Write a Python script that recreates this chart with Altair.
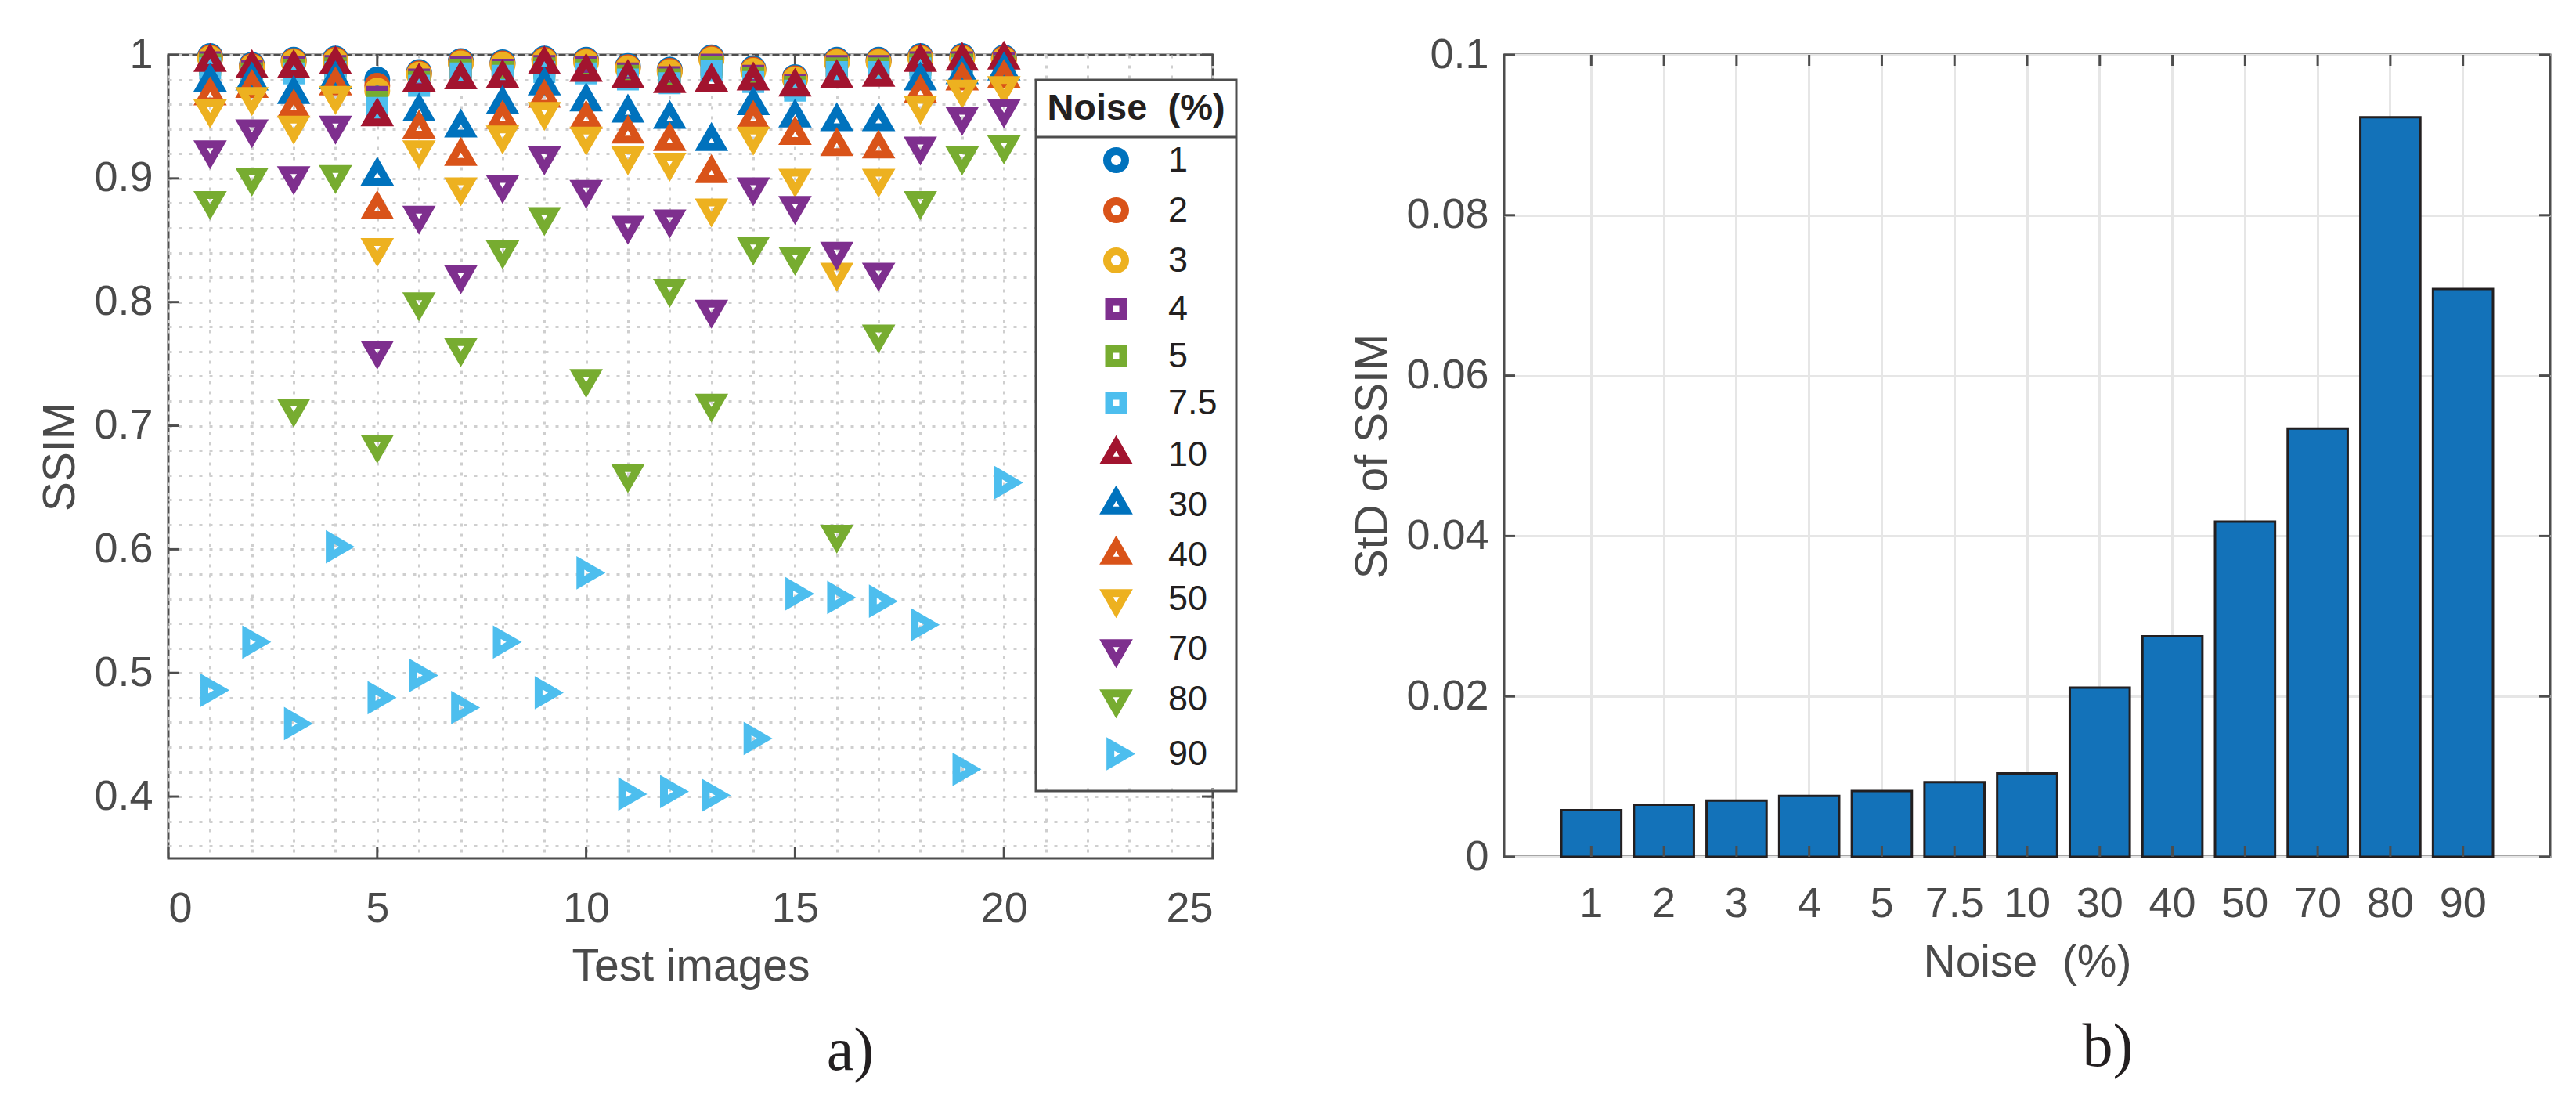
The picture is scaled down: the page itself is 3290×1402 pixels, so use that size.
import altair as alt
import pandas as pd

# ---------------- values ----------------
images = list(range(1, 21))
noise_levels = ["1", "2", "3", "4", "5", "7.5", "10", "30", "40", "50", "70", "80", "90"]

ssim_1 = [0.999, 0.992, 0.996, 0.997, 0.980, 0.986, 0.995, 0.994, 0.997, 0.996,
          0.991, 0.988, 0.998, 0.989, 0.982, 0.996, 0.996, 0.999, 0.999, 0.998]
ssim_2 = [0.998, 0.991, 0.995, 0.996, 0.975, 0.985, 0.994, 0.993, 0.996, 0.995,
          0.990, 0.987, 0.997, 0.988, 0.981, 0.995, 0.995, 0.998, 0.998, 0.997]
ssim_3 = [0.997, 0.990, 0.994, 0.995, 0.971, 0.984, 0.993, 0.992, 0.995, 0.994,
          0.989, 0.986, 0.996, 0.987, 0.980, 0.994, 0.994, 0.997, 0.997, 0.996]
ssim_4 = [0.994, 0.987, 0.990, 0.991, 0.966, 0.980, 0.990, 0.988, 0.991, 0.990,
          0.985, 0.982, 0.992, 0.983, 0.976, 0.991, 0.991, 0.994, 0.994, 0.993]
ssim_5 = [0.992, 0.985, 0.988, 0.989, 0.962, 0.978, 0.988, 0.986, 0.989, 0.988,
          0.983, 0.980, 0.990, 0.981, 0.974, 0.989, 0.989, 0.992, 0.992, 0.991]
ssim_7_5 = [0.989, 0.982, 0.985, 0.986, 0.957, 0.975, 0.985, 0.983, 0.986, 0.985,
            0.980, 0.977, 0.987, 0.978, 0.971, 0.986, 0.986, 0.989, 0.989, 0.988]
ssim_10 = [0.994, 0.989, 0.989, 0.992, 0.950, 0.978, 0.980, 0.981, 0.992, 0.986,
           0.981, 0.977, 0.978, 0.979, 0.974, 0.981, 0.982, 0.994, 0.995, 0.996]
ssim_30 = [0.978, 0.979, 0.968, 0.980, 0.902, 0.954, 0.941, 0.960, 0.975, 0.962,
           0.953, 0.948, 0.930, 0.959, 0.949, 0.946, 0.946, 0.979, 0.984, 0.987]
ssim_40 = [0.967, 0.973, 0.957, 0.975, 0.875, 0.940, 0.918, 0.948, 0.965, 0.948,
           0.936, 0.930, 0.904, 0.948, 0.935, 0.926, 0.924, 0.969, 0.979, 0.981]
ssim_50 = [0.956, 0.966, 0.943, 0.967, 0.844, 0.923, 0.893, 0.935, 0.954, 0.934,
           0.918, 0.913, 0.876, 0.934, 0.900, 0.824, 0.900, 0.959, 0.972, 0.975]
ssim_70 = [0.923, 0.940, 0.902, 0.943, 0.761, 0.870, 0.822, 0.895, 0.918, 0.891,
           0.862, 0.867, 0.794, 0.893, 0.878, 0.841, 0.824, 0.926, 0.950, 0.956]
ssim_80 = [0.882, 0.901, 0.714, 0.903, 0.685, 0.800, 0.763, 0.842, 0.869, 0.738,
           0.661, 0.811, 0.718, 0.845, 0.837, 0.612, 0.774, 0.882, 0.918, 0.927]
ssim_90 = [0.486, 0.525, 0.459, 0.602, 0.480, 0.498, 0.472, 0.525, 0.484, 0.581,
           0.402, 0.404, 0.401, 0.447, 0.564, 0.561, 0.558, 0.539, 0.422, 0.654]

std_ssim = [0.0058, 0.0065, 0.0070, 0.0076, 0.0082, 0.0093, 0.0104,
            0.0211, 0.0275, 0.0418, 0.0534, 0.0922, 0.0708]

x_major = [0, 5, 10, 15, 20, 25]
y_major = [0.4, 0.5, 0.6, 0.7, 0.8, 0.9, 1.0]
std_major = [0, 0.02, 0.04, 0.06, 0.08, 0.1]

legend_title = "Noise\u00a0\u00a0(%)"

# ---------------- style ----------------
FONT = "Liberation Sans"
SERIF = "Liberation Serif"
TEXT = "#4a4a4a"
INK = "#231f20"
AX = "#4d4d4d"

BLUE, ORANGE, YELLOW = "#0072BD", "#D95319", "#EDB120"
PURPLE, GREEN, CYAN, RED = "#7E2F8E", "#77AC30", "#4DBEEE", "#A2142F"
series_colors = [BLUE, ORANGE, YELLOW, PURPLE, GREEN, CYAN, RED,
                 BLUE, ORANGE, YELLOW, PURPLE, GREEN, CYAN]

# MATLAB-like markers, centred on the centroid like MATLAB does
CIRCLE = "M0.784,0A0.784,0.784,0,1,1,-0.784,0A0.784,0.784,0,1,1,0.784,0Z"
SQUARE = "M-0.614,-0.614L0.614,-0.614L0.614,0.614L-0.614,0.614Z"
TRI_UP = "M0,-1L0.866,0.5L-0.866,0.5Z"
TRI_DOWN = "M0,1L0.866,-0.5L-0.866,-0.5Z"
TRI_RIGHT = "M1,0L-0.5,0.866L-0.5,-0.866Z"
series_shapes = [CIRCLE] * 3 + [SQUARE] * 3 + [TRI_UP] * 3 + [TRI_DOWN] * 3 + [TRI_RIGHT]

W1, H1 = 1334, 1026
W2, H2 = 1336, 1024
GAP = 372
TICK = 14
# legend box of panel a, in pixels from the plot's top-left corner
LEG_X, LEG_Y, LEG_W, LEG_H, LEG_SEP = 1108, 32, 255, 904, 105

# ---------------- panel a ----------------
ssim_series = [ssim_1, ssim_2, ssim_3, ssim_4, ssim_5, ssim_7_5, ssim_10,
               ssim_30, ssim_40, ssim_50, ssim_70, ssim_80, ssim_90]
points = pd.DataFrame(
    [(img, v, lvl) for lvl, vals in zip(noise_levels, ssim_series)
     for img, v in zip(images, vals)],
    columns=["image", "ssim", "noise"])

x_grid = list(range(0, 26))
y_grid = [round(0.36 + 0.02 * i, 2) for i in range(33)]

x_a = alt.X("image:Q", title="Test images",
            scale=alt.Scale(domain=[0, 25], nice=False),
            axis=alt.Axis(values=x_grid, labelExpr="datum.value % 5 == 0 ? datum.label : ''",
                          grid=True, gridDash=[4, 9], gridColor="#cfcfcf", gridWidth=3,
                          ticks=False, domain=False, labelPadding=37, titlePadding=19))
y_a = alt.Y("ssim:Q", title="SSIM",
            scale=alt.Scale(domain=[0.35, 1.0], nice=False, zero=False),
            axis=alt.Axis(values=y_grid, format="~g",
                          labelExpr="abs(datum.value * 10 - round(datum.value * 10)) < 0.001 ? datum.label : ''",
                          grid=True, gridDash=[4, 9], gridColor="#cfcfcf", gridWidth=3,
                          ticks=False, domain=False, labelPadding=20, titlePadding=13))

legend_a = alt.Legend(title=legend_title, orient="none", legendX=LEG_X, legendY=LEG_Y,
                      padding=14, titlePadding=19, titleAnchor="middle",
                      titleFont=FONT, titleFontSize=47, titleFontWeight="bold", titleColor=INK,
                      titleLimit=600,
                      rowPadding=1, symbolSize=860, symbolStrokeWidth=10,
                      symbolOffset=55, labelOffset=44, labelFont=FONT, labelFontSize=45,
                      labelColor=INK, strokeColor=AX)

scatter = alt.Chart(points).mark_point(filled=False, size=860, strokeWidth=10, opacity=1).encode(
    x=x_a, y=y_a,
    color=alt.Color("noise:N", sort=noise_levels,
                    scale=alt.Scale(domain=noise_levels, range=series_colors), legend=legend_a),
    shape=alt.Shape("noise:N", sort=noise_levels,
                    scale=alt.Scale(domain=noise_levels, range=series_shapes), legend=legend_a),
)

xt_a = pd.DataFrame({"image": x_major})
yt_a = pd.DataFrame({"ssim": y_major})
tick_a = alt.Chart(xt_a).mark_rule(color=AX, strokeWidth=3)
tick_ay = alt.Chart(yt_a).mark_rule(color=AX, strokeWidth=3)
ticks_a = [
    tick_a.encode(x=x_a, y=alt.value(H1 - TICK), y2=alt.value(H1)),
    tick_a.encode(x=x_a, y=alt.value(0), y2=alt.value(TICK)),
    tick_ay.encode(y=y_a, x=alt.value(0), x2=alt.value(TICK)),
    tick_ay.encode(y=y_a, x=alt.value(W1 - TICK), x2=alt.value(W1)),
]

# white backing of the legend box and the line under its title
one = pd.DataFrame({"k": [0]})
legend_back = alt.Chart(one).mark_rect(color="white").encode(
    x=alt.value(LEG_X + 1), x2=alt.value(LEG_X + LEG_W - 1),
    y=alt.value(LEG_Y + 1), y2=alt.value(LEG_Y + LEG_H))
separator = alt.Chart(one).mark_rule(color=AX, strokeWidth=3).encode(
    x=alt.value(LEG_X), x2=alt.value(LEG_X + LEG_W), y=alt.value(LEG_SEP))

panel_a = alt.layer(*ticks_a, scatter, legend_back, separator).properties(
    width=W1, height=H1,
    title=alt.TitleParams("a)", orient="bottom", anchor="middle", frame="group", dx=204,
                          offset=42, font=SERIF, fontSize=78, fontWeight="normal", color=INK))

# ---------------- panel b ----------------
std_df = pd.DataFrame({"noise": noise_levels, "std": std_ssim})

x_b = alt.X("noise:N", sort=noise_levels, title="Noise\u00a0\u00a0(%)",
            scale=alt.Scale(paddingInner=0.174, paddingOuter=0.787),
            axis=alt.Axis(labelAngle=0, grid=True, gridColor="#e6e6e6", gridWidth=3,
                          ticks=False, domain=False, labelPadding=33, titlePadding=20))
y_b = alt.Y("std:Q", title="StD of SSIM",
            scale=alt.Scale(domain=[0, 0.1], nice=False),
            axis=alt.Axis(values=std_major, format="~g", grid=True, gridColor="#e6e6e6",
                          gridWidth=3, ticks=False, domain=False, labelPadding=20, titlePadding=13))

bars = alt.Chart(std_df).mark_bar(color="#1372B9", stroke=INK, strokeWidth=3).encode(x=x_b, y=y_b)

xt_b = pd.DataFrame({"noise": noise_levels})
yt_b = pd.DataFrame({"std": std_major})
tick_b = alt.Chart(xt_b).mark_rule(color=AX, strokeWidth=3)
tick_by = alt.Chart(yt_b).mark_rule(color=AX, strokeWidth=3)
ticks_b = [
    tick_b.encode(x=x_b, y=alt.value(H2 - TICK), y2=alt.value(H2)),
    tick_b.encode(x=x_b, y=alt.value(0), y2=alt.value(TICK)),
    tick_by.encode(y=y_b, x=alt.value(0), x2=alt.value(TICK)),
    tick_by.encode(y=y_b, x=alt.value(W2 - TICK), x2=alt.value(W2)),
]

panel_b = alt.layer(bars, *ticks_b).properties(
    width=W2, height=H2,
    title=alt.TitleParams("b)", orient="bottom", anchor="middle", frame="group", dx=103,
                          offset=42, font=SERIF, fontSize=78, fontWeight="normal", color=INK))

chart = alt.hconcat(panel_a, panel_b, spacing=GAP, bounds="flush").properties(
    padding={"left": 39, "top": 30, "right": 5, "bottom": 5}
).configure_view(
    stroke=AX, strokeWidth=3
).configure_axis(
    labelFont=FONT, labelFontSize=54, labelColor=TEXT, labelOverlap=False,
    titleFont=FONT, titleFontSize=57, titleFontWeight="normal", titleColor=TEXT
).configure_legend(
    strokeWidth=3
)

chart.save("out.html", embed_options={"renderer": "svg", "actions": False})
